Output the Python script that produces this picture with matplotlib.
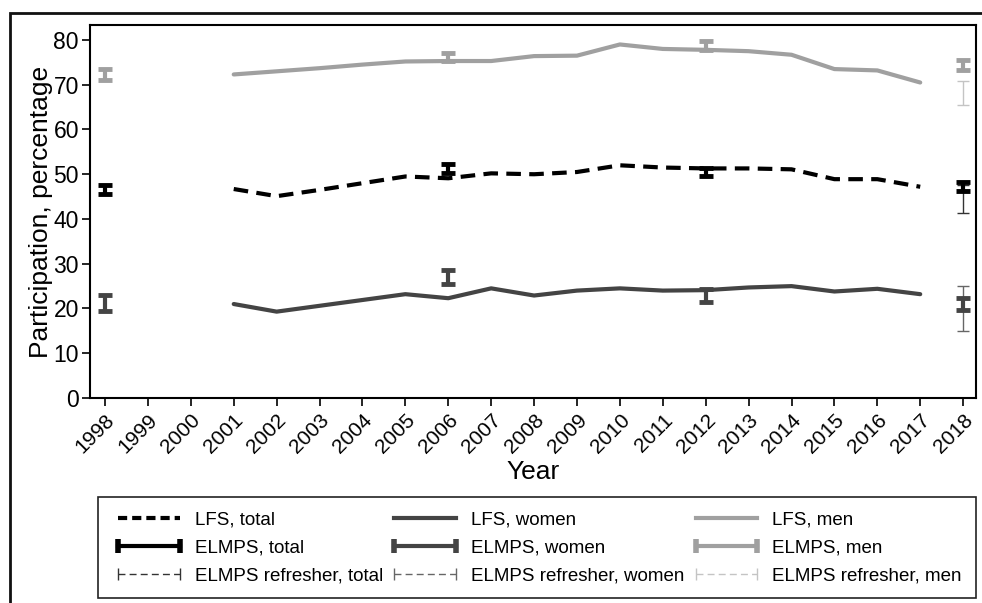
import matplotlib
matplotlib.use('Agg')
import matplotlib.pyplot as plt
import matplotlib.patches as patches
from matplotlib.lines import Line2D
import numpy as np

plt.rcParams['font.family'] = ['Liberation Sans', 'DejaVu Sans']

# LFS series, 2001-2017
lfs_years = list(range(2001, 2018))
lfs_total = [46.7, 45.1, 46.5, 48.0, 49.5, 49.1, 50.2, 50.0, 50.5, 52.0, 51.5, 51.3, 51.3, 51.1, 48.9, 48.9, 47.2]
lfs_women = [21.0, 19.3, 20.6, 21.9, 23.2, 22.3, 24.5, 22.9, 24.0, 24.5, 24.0, 24.1, 24.7, 25.0, 23.8, 24.4, 23.2]
lfs_men = [72.3, 73.0, 73.7, 74.5, 75.2, 75.3, 75.3, 76.4, 76.5, 79.0, 78.0, 77.8, 77.5, 76.7, 73.5, 73.2, 70.5]

# ELMPS confidence intervals
elmps_years = [1998, 2006, 2012, 2018]
elmps_total_lo = [45.5, 50.3, 49.6, 46.3]
elmps_total_hi = [47.7, 52.3, 51.3, 48.2]
elmps_women_lo = [19.4, 25.5, 21.5, 19.7]
elmps_women_hi = [23.0, 28.7, 24.3, 22.3]
elmps_men_lo = [71.0, 75.3, 77.8, 73.2]
elmps_men_hi = [73.5, 77.2, 79.8, 75.6]

# ELMPS refresher sample, 2018 only
ref_years = [2018]
ref_total_lo = [41.3]
ref_total_hi = [47.5]
ref_women_lo = [15.0]
ref_women_hi = [25.0]
ref_men_lo = [65.4]
ref_men_hi = [70.9]

c_total = 'black'
c_women = '#444444'
c_men = '#a0a0a0'
c_ref_total = '#333333'
c_ref_women = '#666666'
c_ref_men = '#c4c4c4'

fig = plt.figure(figsize=(9.82, 6.03), dpi=100)
ax = fig.add_axes([90 / 982, 1 - 398 / 603, (976 - 90) / 982, (398 - 25) / 603])

ax.plot(lfs_years, lfs_total, color=c_total, lw=3, ls=(0, (3.5, 2)), solid_capstyle='butt')
ax.plot(lfs_years, lfs_women, color=c_women, lw=3, solid_capstyle='round')
ax.plot(lfs_years, lfs_men, color=c_men, lw=3, solid_capstyle='round')


def ci_bars(years, lo, hi, color, thick):
    lo = np.array(lo)
    hi = np.array(hi)
    mid = (lo + hi) / 2
    if thick:
        ax.errorbar(years, mid, yerr=(hi - lo) / 2, fmt='none', ecolor=color,
                    elinewidth=3, capsize=5, capthick=3.5, zorder=4)
    else:
        ax.errorbar(years, mid, yerr=(hi - lo) / 2, fmt='none', ecolor=color,
                    elinewidth=1, capsize=4.5, capthick=1, zorder=3)


ci_bars(elmps_years, elmps_total_lo, elmps_total_hi, c_total, True)
ci_bars(elmps_years, elmps_women_lo, elmps_women_hi, c_women, True)
ci_bars(elmps_years, elmps_men_lo, elmps_men_hi, c_men, True)
ci_bars(ref_years, ref_total_lo, ref_total_hi, c_ref_total, False)
ci_bars(ref_years, ref_women_lo, ref_women_hi, c_ref_women, False)
ci_bars(ref_years, ref_men_lo, ref_men_hi, c_ref_men, False)

ax.set_xlim(1997.65, 2018.3)
ax.set_ylim(0, 83.35)
ax.set_xticks(range(1998, 2019))
ax.set_xticklabels([str(y) for y in range(1998, 2019)], rotation=45,
                   ha='right', va='top', rotation_mode='anchor', fontsize=15)
ax.set_yticks(range(0, 81, 10))
ax.tick_params(axis='y', labelsize=16.5, length=6, width=1.2, pad=2)
ax.tick_params(axis='x', length=6, width=1.2, pad=3)
for s in ax.spines.values():
    s.set_linewidth(1.5)
ax.set_xlabel('Year', fontsize=19, labelpad=2)
ax.set_ylabel('Participation, percentage', fontsize=19, labelpad=0)

# legend, filled column by column
handles = [
    Line2D([], [], color=c_total, lw=3, ls=(0, (2.2, 1.2))),
    Line2D([], [], color=c_total, lw=3, marker='|', ms=10, mew=4),
    Line2D([], [], color=c_ref_total, lw=1, ls=(0, (5, 3)), marker='|', ms=8, mew=1),
    Line2D([], [], color=c_women, lw=3),
    Line2D([], [], color=c_women, lw=3, marker='|', ms=10, mew=4),
    Line2D([], [], color=c_ref_women, lw=1, ls=(0, (5, 3)), marker='|', ms=8, mew=1),
    Line2D([], [], color=c_men, lw=3),
    Line2D([], [], color=c_men, lw=3, marker='|', ms=10, mew=4),
    Line2D([], [], color=c_ref_men, lw=1, ls=(0, (5, 3)), marker='|', ms=8, mew=1),
]
labels = ['LFS, total', 'ELMPS, total', 'ELMPS refresher, total',
          'LFS, women', 'ELMPS, women', 'ELMPS refresher, women',
          'LFS, men', 'ELMPS, men', 'ELMPS refresher, men']
leg = fig.legend(handles, labels, loc='upper left', ncol=3,
                 bbox_to_anchor=(98 / 982, 1 - 497 / 603), fontsize=13.5,
                 numpoints=2, handlelength=3.9, handletextpad=0.5,
                 columnspacing=0.3, labelspacing=0.58, borderpad=0.75,
                 borderaxespad=0, fancybox=False, framealpha=1)
leg.get_frame().set_edgecolor('#222222')
leg.get_frame().set_linewidth(1.2)

# outer frame of the figure panel
fig.add_artist(patches.Rectangle((10 / 982, -0.1), 1.2, 1.1 - 13 / 603,
                                 transform=fig.transFigure, fill=False,
                                 edgecolor='#111111', lw=2, clip_on=False))

fig.savefig('out.png', dpi=100)
